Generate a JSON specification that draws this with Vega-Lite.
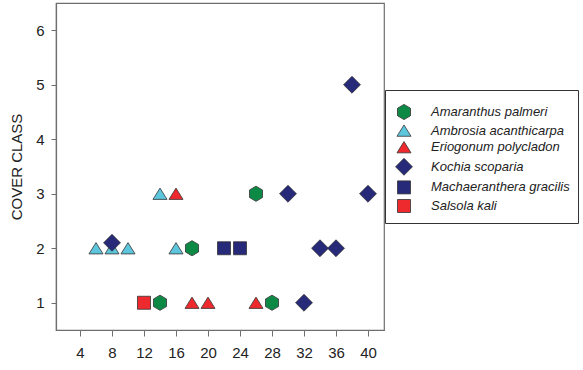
{
  "$schema": "https://vega.github.io/schema/vega-lite/v6.json",
  "width": 328,
  "height": 327,
  "autosize": {"type": "none"},
  "padding": {"left": 56, "top": 3, "right": 199, "bottom": 40},
  "background": "white",
  "config": {
    "font": "Liberation Sans",
    "view": {"stroke": "#6e6e6e", "strokeWidth": 1.2},
    "axis": {
      "domainColor": "#6e6e6e",
      "domainWidth": 1.2,
      "tickColor": "#6e6e6e",
      "grid": false,
      "labelFont": "Liberation Sans",
      "labelFontSize": 15,
      "labelColor": "#222222",
      "titleFont": "Liberation Sans",
      "titleFontWeight": "normal",
      "titleColor": "#222222"
    }
  },
  "data": {
    "values": [
      {"species": "Amaranthus palmeri", "x": 14, "y": 1},
      {"species": "Amaranthus palmeri", "x": 18, "y": 2},
      {"species": "Amaranthus palmeri", "x": 26, "y": 3},
      {"species": "Amaranthus palmeri", "x": 28, "y": 1},
      {"species": "Ambrosia acanthicarpa", "x": 6, "y": 2},
      {"species": "Ambrosia acanthicarpa", "x": 8, "y": 2},
      {"species": "Ambrosia acanthicarpa", "x": 10, "y": 2},
      {"species": "Ambrosia acanthicarpa", "x": 14, "y": 3},
      {"species": "Ambrosia acanthicarpa", "x": 16, "y": 2},
      {"species": "Eriogonum polycladon", "x": 16, "y": 3},
      {"species": "Eriogonum polycladon", "x": 18, "y": 1},
      {"species": "Eriogonum polycladon", "x": 20, "y": 1},
      {"species": "Eriogonum polycladon", "x": 26, "y": 1},
      {"species": "Kochia scoparia", "x": 8, "y": 2.1},
      {"species": "Kochia scoparia", "x": 30, "y": 3},
      {"species": "Kochia scoparia", "x": 32, "y": 1},
      {"species": "Kochia scoparia", "x": 34, "y": 2},
      {"species": "Kochia scoparia", "x": 36, "y": 2},
      {"species": "Kochia scoparia", "x": 38, "y": 5},
      {"species": "Kochia scoparia", "x": 40, "y": 3},
      {"species": "Machaeranthera gracilis", "x": 22, "y": 2},
      {"species": "Machaeranthera gracilis", "x": 24, "y": 2},
      {"species": "Salsola kali", "x": 12, "y": 1}
    ]
  },
  "mark": {"type": "point", "filled": true, "size": 169, "stroke": "#333333", "strokeWidth": 0.8, "opacity": 1},
  "encoding": {
    "x": {
      "field": "x", "type": "quantitative",
      "scale": {"domain": [1, 42], "nice": false, "zero": false},
      "axis": {"title": null, "values": [4, 8, 12, 16, 20, 24, 28, 32, 36, 40], "tickSize": 6, "labelPadding": 9}
    },
    "y": {
      "field": "y", "type": "quantitative",
      "scale": {"domain": [0.5, 6.5], "nice": false, "zero": false},
      "axis": {"title": "COVER CLASS", "titleFontSize": 15, "values": [1, 2, 3, 4, 5, 6], "tickSize": 5, "labelPadding": 7, "titlePadding": 11}
    },
    "color": {
      "field": "species", "type": "nominal",
      "scale": {
        "domain": ["Amaranthus palmeri", "Ambrosia acanthicarpa", "Eriogonum polycladon", "Kochia scoparia", "Machaeranthera gracilis", "Salsola kali"],
        "range": ["#0c8a45", "#5cc6dc", "#ee2a2f", "#262a78", "#262a78", "#ee2a2f"]
      },
      "legend": {
        "orient": "none",
        "legendX": 329,
        "legendY": 87,
        "title": " ",
        "titleFontSize": 1,
        "titlePadding": 6,
        "padding": 8,
        "strokeColor": "#333333",
        "fillColor": "white",
        "labelFont": "Liberation Sans",
        "labelFontStyle": "italic",
        "labelFontSize": 13,
        "labelColor": "#222222",
        "labelOffset": 20,
        "symbolOffset": 4,
        "symbolSize": 169,
        "symbolStrokeColor": "#333333",
        "symbolStrokeWidth": 0.8,
        "rowPadding": 0.6,
        "labelLimit": 300
      }
    },
    "shape": {
      "field": "species", "type": "nominal",
      "scale": {
        "domain": ["Amaranthus palmeri", "Ambrosia acanthicarpa", "Eriogonum polycladon", "Kochia scoparia", "Machaeranthera gracilis", "Salsola kali"],
        "range": [
          "M0,-1.17L1,-0.58L1,0.58L0,1.17L-1,0.58L-1,-0.58Z",
          "M0,-0.87L1.08,0.87L-1.08,0.87Z",
          "M0,-0.87L1.08,0.87L-1.08,0.87Z",
          "M0,-1.3L1.3,0L0,1.3L-1.3,0Z",
          "M-1,-1L1,-1L1,1L-1,1Z",
          "M-1,-1L1,-1L1,1L-1,1Z"
        ]
      }
    }
  }
}
